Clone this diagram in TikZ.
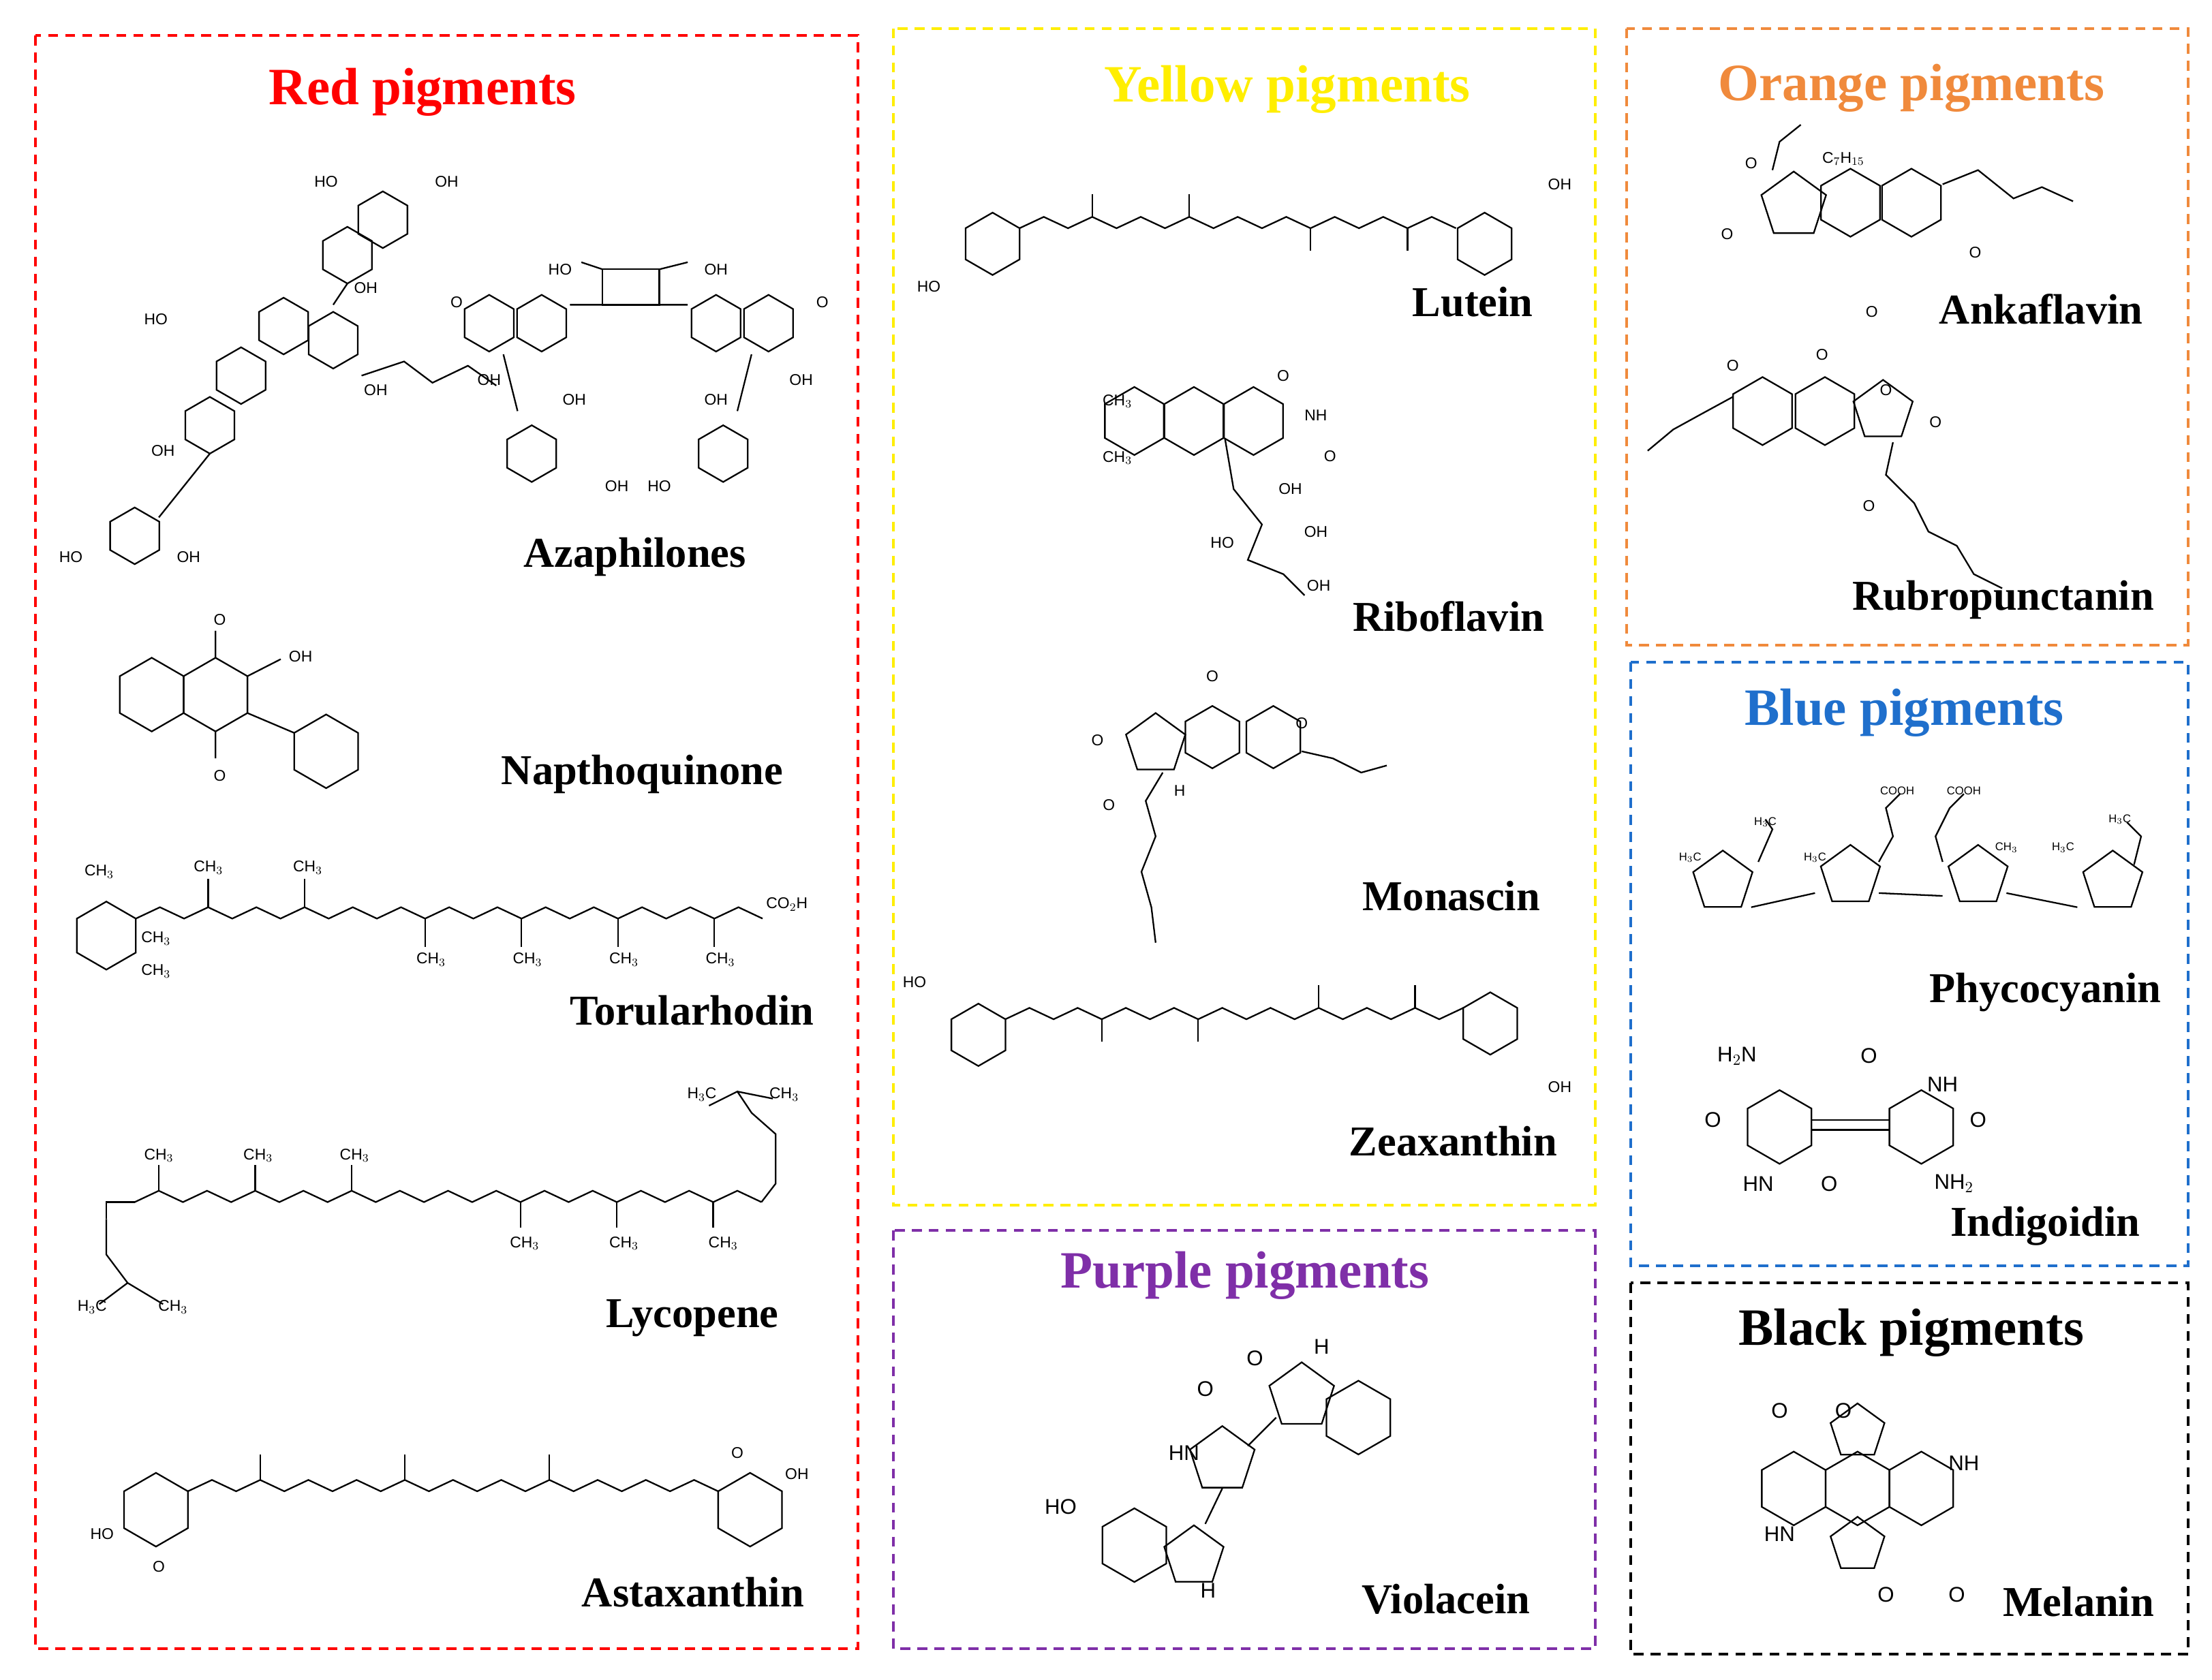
\documentclass[tikz,border=0pt]{standalone}
\usepackage{fontspec}
\setmainfont{Liberation Serif}
\newfontfamily\chem{Liberation Sans}
\definecolor{cred}{HTML}{FF0000}
\definecolor{cyel}{HTML}{FFEE00}
\definecolor{cora}{HTML}{F08A3C}
\definecolor{cblu}{HTML}{1F6FCC}
\definecolor{cpur}{HTML}{7F2FA8}
\newcommand\hx[3]{\draw (#1,#2) +(30:#3) -- +(90:#3) -- +(150:#3) -- +(210:#3) -- +(270:#3) -- +(330:#3) -- cycle;}
\newcommand\pn[3]{\draw (#1,#2) +(270:#3) -- +(342:#3) -- +(54:#3) -- +(126:#3) -- +(198:#3) -- cycle;}
\newcommand\zig[5]{\draw (#1,#2) foreach \i in {1,...,#3} { -- ++(#4,{ifthenelse(mod(\i,2)==1,-#5,#5)}) };}
\begin{document}
\begin{tikzpicture}[x=1pt,y=-1pt,line width=1.1pt,
  box/.style={dash pattern=on 7pt off 5pt,line width=2pt},
  ttl/.style={font=\fontsize{37}{40}\selectfont\bfseries},
  lab/.style={font=\fontsize{30}{33}\selectfont\bfseries,anchor=east},
  ch/.style={font=\chem\fontsize{11}{12}\selectfont,inner sep=1pt}]
\useasboundingbox (0,0) rectangle (1560,1185);
% boxes
\draw[box,cred] (25,25) rectangle (605,1163);
\draw[box,cyel] (630,20) rectangle (1125,850);
\draw[box,cpur] (630,868) rectangle (1125,1163);
\draw[box,cora] (1147,20) rectangle (1543,455);
\draw[box,cblu] (1150,467) rectangle (1543,893);
\draw[box] (1150,905) rectangle (1543,1167);
% titles
\node[ttl,cred] (t1) at (298,65) {Red pigments};
\node[ttl,cyel] (t2) at (908,63) {Yellow pigments};
\node[ttl,cora] (t3) at (1348,62) {Orange pigments};
\node[ttl,cblu] (t4) at (1343,503) {Blue pigments};
\node[ttl,cpur] (t5) at (878,900) {Purple pigments};
\node[ttl] (t6) at (1348,940) {Black pigments};
% labels
\node[lab] (l1) at (530,393) {Azaphilones};
\node[lab] (l2) at (556,546) {Napthoquinone};
\node[lab] (l3) at (578,713) {Torularhodin};
\node[lab] (l4) at (553,930) {Lycopene};
\node[lab] (l5) at (571,1123) {Astaxanthin};
\node[lab] (l6) at (1085,213) {Lutein};
\node[lab] (l7) at (1093,435) {Riboflavin};
\node[lab] (l8) at (1090,632) {Monascin};
\node[lab] (l9) at (1102,805) {Zeaxanthin};
\node[lab] (l10) at (1083,1128) {Violacein};
\node[lab] (l11) at (1515,218) {Ankaflavin};
\node[lab] (l12) at (1523,423) {Rubropunctanin};
\node[lab] (l13) at (1528,700) {Phycocyanin};
\node[lab] (l14) at (1513,865) {Indigoidin};
\node[lab] (l15) at (1523,1130) {Melanin};
% ---- Azaphilone 1
\hx{270}{155}{20}\hx{148}{300}{20}\hx{200}{230}{20}\hx{235}{240}{20}\hx{170}{265}{20}
\hx{95}{378}{20}\hx{245}{180}{20}
\draw (148,320)--(128,345)--(112,365); \draw (245,200)--(235,215);
\draw (255,265)--(285,255)--(305,270)--(330,258)--(350,272);
\node[ch] (a1) at (230,128){HO}; \node[ch] (a2) at (315,128){OH};
\node[ch] (a3) at (50,393){HO}; \node[ch] (a4) at (133,393){OH};
\node[ch] (a5) at (265,275){OH}; \node[ch] (a6) at (110,225){HO};
\node[ch] (a7) at (115,318){OH}; \node[ch] (a8) at (258,203){OH};
% ---- Azaphilone 2
\hx{345}{228}{20}\hx{382}{228}{20}\hx{505}{228}{20}\hx{542}{228}{20}
\draw (425,190) rectangle (465,215);
\draw (402,215)--(425,215) (465,215)--(485,215) (425,190)--(410,185) (465,190)--(485,185);
\hx{375}{320}{20}\hx{510}{320}{20}
\draw (355,250)--(365,290) (530,250)--(520,290);
\node[ch] (b1) at (395,190){HO}; \node[ch] (b2) at (505,190){OH};
\node[ch] (b3) at (345,268){OH}; \node[ch] (b4) at (565,268){OH};
\node[ch] (b5) at (405,282){OH}; \node[ch] (b6) at (505,282){OH};
\node[ch] (b7) at (435,343){OH}; \node[ch] (b8) at (465,343){HO};
\node[ch] (b9) at (322,213){O}; \node[ch] (b10) at (580,213){O};
% ---- Napthoquinone
\hx{107}{490}{26}\hx{152}{490}{26}\hx{230}{530}{26}
\draw (152,464)--(152,445) (152,516)--(152,535) (174.5,477)--(198,465) (174.5,503)--(207.5,517);
\node[ch] (n1) at (155,437){O}; \node[ch] (n2) at (155,547){O}; \node[ch] (n3) at (212,463){OH};
% ---- Torularhodin
\hx{75}{660}{24}
\zig{95.8}{648}{26}{17}{8}
\foreach \x/\y/\d in {146.8/640/-1,214.8/640/-1,299.8/648/1,367.8/648/1,435.8/648/1,503.8/648/1} \draw (\x,\y)--++(0,{\d*20});
\node[ch] (r1) at (70,615){CH$_3$}; \node[ch] (r2) at (555,638){CO$_2$H};
\node[ch] (r3) at (147,612){CH$_3$}; \node[ch] (r4) at (217,612){CH$_3$};
\node[ch] (r5) at (304,677){CH$_3$}; \node[ch] (r6) at (372,677){CH$_3$};
\node[ch] (r7) at (440,677){CH$_3$}; \node[ch] (r8) at (508,677){CH$_3$};
\node[ch] (r9) at (110,662){CH$_3$}; \node[ch] (r10) at (110,685){CH$_3$};
% ---- Lycopene
\draw (75,860)--(75,848)--(95,848);
\draw (75,860)--(75,885)--(90,905)--(70,920) (90,905)--(115,920);
\zig{95}{848}{26}{17}{8}
\draw (537,848)--(547,835)--(547,800)--(530,785)--(520,770)--(500,780) (520,770)--(545,775);
\foreach \x/\y/\d in {112/840/-1,180/840/-1,248/840/-1,367/848/1,435/848/1,503/848/1} \draw (\x,\y)--++(0,{\d*18});
\node[ch] (y1) at (112,815){CH$_3$}; \node[ch] (y2) at (182,815){CH$_3$};
\node[ch] (y3) at (250,815){CH$_3$}; \node[ch] (y4) at (370,877){CH$_3$};
\node[ch] (y5) at (440,877){CH$_3$}; \node[ch] (y6) at (510,877){CH$_3$};
\node[ch] (y7) at (495,772){H$_3$C}; \node[ch] (y8) at (553,772){CH$_3$};
\node[ch] (y9) at (65,922){H$_3$C}; \node[ch] (y10) at (122,922){CH$_3$};
% ---- Astaxanthin
\hx{110}{1065}{26}\hx{529}{1065}{26}
\zig{132.5}{1052}{22}{17}{8}
\foreach \x in {183.5,285.5,387.5} \draw (\x,1044)--++(0,-18);
\node[ch] (s1) at (72,1082){HO}; \node[ch] (s2) at (112,1105){O};
\node[ch] (s3) at (520,1025){O}; \node[ch] (s4) at (562,1040){OH};
% ---- Lutein
\hx{700}{172}{22}\hx{1047}{172}{22}
\zig{719}{161}{18}{17.1}{8}
\foreach \x in {770.3,838.7} \draw (\x,153)--++(0,-16);
\foreach \x in {924.2,992.6} \draw (\x,161)--++(0,16);
\node[ch] (u1) at (655,202){HO}; \node[ch] (u2) at (1100,130){OH};
% ---- Zeaxanthin
\hx{690}{730}{22}\hx{1051}{722}{22}
\zig{709}{719}{19}{17}{8}
\foreach \x in {777,845} \draw (\x,719)--++(0,16);
\foreach \x in {930,998} \draw (\x,711)--++(0,-16);
\node[ch] (z1) at (645,693){HO}; \node[ch] (z2) at (1100,767){OH};
% ---- Riboflavin
\hx{800}{297}{24}\hx{842}{297}{24}\hx{884}{297}{24}
\draw (864,310)--(870,345)--(890,370)--(880,395)--(905,405)--(920,420);
\node[ch] (f1) at (788,283){CH$_3$}; \node[ch] (f2) at (788,323){CH$_3$};
\node[ch] (f3) at (905,265){O}; \node[ch] (f4) at (928,293){NH};
\node[ch] (f5) at (938,322){O}; \node[ch] (f6) at (910,345){OH};
\node[ch] (f7) at (862,383){HO}; \node[ch] (f8) at (928,375){OH};
\node[ch] (f9) at (930,413){OH};
% ---- Monascin
\pn{815}{525}{22}\hx{855}{520}{22}\hx{898}{520}{22}
\draw (918,530)--(940,535)--(960,545)--(978,540);
\draw (820,545)--(808,565)--(815,590)--(805,615)--(812,640)--(815,665);
\node[ch] (m1) at (855,477){O}; \node[ch] (m2) at (774,522){O};
\node[ch] (m3) at (918,510){O}; \node[ch] (m4) at (782,568){O};
\node[ch] (m5) at (832,558){H};
% ---- Ankaflavin
\pn{1265}{145}{24}\hx{1305}{143}{24}\hx{1348}{143}{24}
\draw (1370,130)--(1395,120)--(1420,140)--(1440,132)--(1462,142);
\draw (1250,120)--(1255,100)--(1270,88);
\node[ch] (k1) at (1235,115){O}; \node[ch] (k2) at (1300,112){C$_7$H$_{15}$};
\node[ch] (k3) at (1218,165){O}; \node[ch] (k4) at (1320,220){O};
\node[ch] (k5) at (1393,178){O};
% ---- Rubropunctanin
\hx{1243}{290}{24}\hx{1287}{290}{24}\pn{1328}{290}{22}
\draw (1222,280)--(1200,292)--(1180,303)--(1162,318);
\draw (1335,312)--(1330,335)--(1350,355)--(1360,375)--(1380,385)--(1392,405)--(1412,415);
\node[ch] (p1) at (1285,250){O}; \node[ch] (p2) at (1222,258){O};
\node[ch] (p3) at (1330,275){O}; \node[ch] (p4) at (1365,298){O};
\node[ch] (p5) at (1318,357){O};
% ---- Phycocyanin
\pn{1215}{622}{22}\pn{1305}{618}{22}\pn{1395}{618}{22}\pn{1490}{622}{22}
\draw (1235,640)--(1280,630) (1325,630)--(1370,632) (1415,630)--(1465,640);
\draw (1325,608)--(1335,590)--(1330,570)--(1340,560) (1370,608)--(1365,590)--(1375,570)--(1385,560);
\draw (1240,608)--(1250,585)--(1245,578) (1505,610)--(1510,590)--(1500,580);
\node[ch,font=\chem\fontsize{8}{9}\selectfont] (c1) at (1338,558){COOH};
\node[ch,font=\chem\fontsize{8}{9}\selectfont] (c2) at (1385,558){COOH};
\node[ch,font=\chem\fontsize{8}{9}\selectfont] (c3) at (1245,580){H$_3$C};
\node[ch,font=\chem\fontsize{8}{9}\selectfont] (c4) at (1495,578){H$_3$C};
\node[ch,font=\chem\fontsize{8}{9}\selectfont] (c5) at (1192,605){H$_3$C};
\node[ch,font=\chem\fontsize{8}{9}\selectfont] (c6) at (1280,605){H$_3$C};
\node[ch,font=\chem\fontsize{8}{9}\selectfont] (c7) at (1415,598){CH$_3$};
\node[ch,font=\chem\fontsize{8}{9}\selectfont] (c8) at (1455,598){H$_3$C};
% ---- Indigoidin
\hx{1255}{795}{26}\hx{1355}{795}{26}
\draw (1278,790)--(1332,790) (1278,797)--(1332,797);
\node[ch,font=\chem\fontsize{15}{16}\selectfont] (i1) at (1225,745){H$_2$N};
\node[ch,font=\chem\fontsize{15}{16}\selectfont] (i2) at (1208,790){O};
\node[ch,font=\chem\fontsize{15}{16}\selectfont] (i3) at (1240,835){HN};
\node[ch,font=\chem\fontsize{15}{16}\selectfont] (i4) at (1290,835){O};
\node[ch,font=\chem\fontsize{15}{16}\selectfont] (i5) at (1318,745){O};
\node[ch,font=\chem\fontsize{15}{16}\selectfont] (i6) at (1370,765){NH};
\node[ch,font=\chem\fontsize{15}{16}\selectfont] (i7) at (1395,790){O};
\node[ch,font=\chem\fontsize{15}{16}\selectfont] (i8) at (1378,835){NH$_2$};
% ---- Violacein
\pn{862}{1030}{24}\pn{918}{985}{24}\hx{958}{1000}{26}
\pn{842}{1098}{22}\hx{800}{1090}{26}
\draw (862,1050)--(850,1075) (880,1020)--(900,1000);
\node[ch,font=\chem\fontsize{15}{16}\selectfont] (v1) at (850,980){O};
\node[ch,font=\chem\fontsize{15}{16}\selectfont] (v2) at (885,958){O};
\node[ch,font=\chem\fontsize{15}{16}\selectfont] (v3) at (932,950){H};
\node[ch,font=\chem\fontsize{15}{16}\selectfont] (v4) at (835,1025){HN};
\node[ch,font=\chem\fontsize{15}{16}\selectfont] (v5) at (748,1063){HO};
\node[ch,font=\chem\fontsize{15}{16}\selectfont] (v6) at (852,1122){H};
% ---- Melanin
\hx{1265}{1050}{26}\hx{1310}{1050}{26}\hx{1355}{1050}{26}
\pn{1310}{1010}{20}\pn{1310}{1090}{20}
\node[ch,font=\chem\fontsize{15}{16}\selectfont] (e1) at (1255,995){O};
\node[ch,font=\chem\fontsize{15}{16}\selectfont] (e2) at (1300,995){O};
\node[ch,font=\chem\fontsize{15}{16}\selectfont] (e3) at (1385,1032){NH};
\node[ch,font=\chem\fontsize{15}{16}\selectfont] (e4) at (1255,1082){HN};
\node[ch,font=\chem\fontsize{15}{16}\selectfont] (e5) at (1330,1125){O};
\node[ch,font=\chem\fontsize{15}{16}\selectfont] (e6) at (1380,1125){O};
\end{tikzpicture}
\end{document}
